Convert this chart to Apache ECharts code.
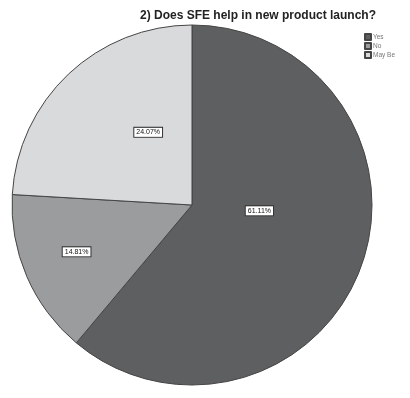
<!DOCTYPE html>
<html><head><meta charset="utf-8">
<script src="https://cdn.jsdelivr.net/npm/echarts@6/dist/echarts.min.js"></script>
<style>html,body{margin:0;padding:0;background:#fff}#c{width:410px;height:398px}</style>
</head><body><div id="c"></div>
<script>
const categories = ["Yes", "No", "May Be"];
const counts = [33, 8, 13];
const percentLabels = ["61.11%", "14.81%", "24.07%"];
const colors = ["#5e5f61", "#9b9c9e", "#d9dadc"];
const labelShift = [[-20, -26], [-30, 10], [20, -5]];

const chart = echarts.init(document.getElementById('c'));
chart.setOption({
  backgroundColor: '#ffffff',
  animation: false,
  title: {
    text: '2) Does SFE help in new product launch?',
    left: 253, top: 5, textAlign: 'center',
    textStyle: {fontFamily: 'Liberation Sans, Arial', fontWeight: 'bold', fontSize: 12, color: '#222'}
  },
  legend: {
    orient: 'vertical', left: 359, top: 28,
    itemWidth: 6, itemHeight: 6, itemGap: 1,
    icon: 'rect',
    textStyle: {fontSize: 6.5, color: '#777', padding: [0,0,0,-3]},
    data: categories
  },
  series: [{
    type: 'pie',
    center: [192, 205],
    radius: 180,
    startAngle: 90,
    clockwise: true,
    itemStyle: {borderColor: '#454545', borderWidth: 1},
    label: {
      position: 'inside',
      formatter: p => percentLabels[p.dataIndex],
      fontSize: 7, color: '#111', fontFamily: 'Liberation Sans, Arial',
      backgroundColor: '#fff', borderColor: '#333', borderWidth: 1, padding: [1, 2]
    },
    labelLayout: p => ({dx: labelShift[p.dataIndex][0], dy: labelShift[p.dataIndex][1]}),
    emphasis: {disabled: true},
    data: categories.map((c, i) => ({name: c, value: counts[i], itemStyle: {color: colors[i]}}))
  }]
});
</script></body></html>
